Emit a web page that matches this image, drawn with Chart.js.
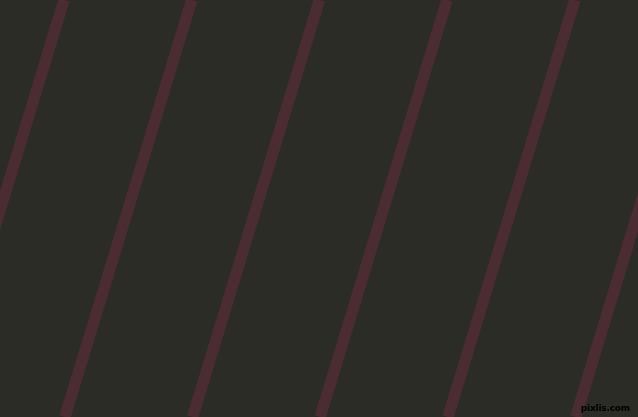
<!DOCTYPE html>
<html>
<head>
<meta charset="utf-8">
<script src="https://cdn.jsdelivr.net/npm/chart.js@4"></script>
<style>
  html, body { margin: 0; padding: 0; background: #2a2c25; overflow: hidden; }
  #wrap { position: relative; width: 638px; height: 417px; }
  #mark {
    position: absolute; right: 8px; bottom: 4px;
    font: bold 9px "DejaVu Sans", sans-serif; color: #000;
    letter-spacing: -0.2px;
  }
</style>
</head>
<body>
<div id="wrap">
  <canvas id="chartGaris"></canvas>
  <div id="mark">pixlis.com</div>
</div>
<script>
// garis diagonal: posisi x di tepi atas (y=0) dan tepi bawah (y=417)
const garisAtasX = [64, 191.7, 319.4, 447, 574.8, 702.5];
const garisBawahX = [-62.8, 64.9, 192.6, 320.2, 448, 575.7];
const batasY = [0, 417];

const warnaLatar = "#2a2c25";
const warnaGaris = "#4b2c33";

const datasets = garisAtasX.map((atas, i) => ({
  data: [
    { x: atas, y: batasY[0] },
    { x: garisBawahX[i], y: batasY[1] },
  ],
  borderColor: warnaGaris,
  borderWidth: 11.5,
  pointRadius: 0,
  showLine: true,
  fill: false,
}));

new Chart(document.getElementById("chartGaris"), {
  type: "scatter",
  data: { datasets },
  options: {
    responsive: true,
    maintainAspectRatio: false,
    animation: false,
    layout: { padding: 0 },
    plugins: { legend: { display: false }, tooltip: { enabled: false } },
    scales: {
      x: { type: "linear", min: 0, max: 638, display: false },
      y: { type: "linear", min: 0, max: 417, reverse: true, display: false },
    },
  },
});
document.getElementById("wrap").style.background = warnaLatar;
</script>
</body>
</html>
